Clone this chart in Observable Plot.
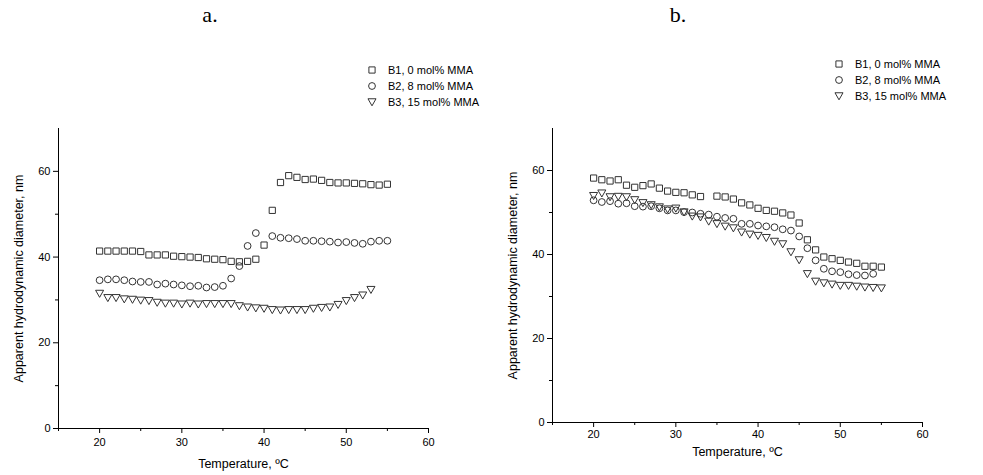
<!DOCTYPE html>
<html>
<head>
<meta charset="utf-8">
<script src="https://cdn.jsdelivr.net/npm/d3@7"></script>
<script src="https://cdn.jsdelivr.net/npm/@observablehq/plot@0.6"></script>
<style>
  html, body { margin: 0; padding: 0; background: #fff; }
  #root { position: relative; width: 983px; height: 475px; overflow: hidden; background: #fff; font-family: "Liberation Sans", Arial, sans-serif; }
  .panel { position: absolute; }
  .title { position: absolute; font-family: "Liberation Serif", "Times New Roman", serif; font-size: 22px; color: #000; transform: translate(-50%, -50%); }
  .legend { position: absolute; font-size: 11px; color: #000; line-height: 15px; }
  .legend .row { display: flex; align-items: center; height: 16px; white-space: nowrap; }
  .legend svg { margin-right: 11px; }
</style>
</head>
<body>
<div id="root"></div>
<script>
// ---- data ----
const temps = [20,21,22,23,24,25,26,27,28,29,30,31,32,33,34,35,36,37,38,39,40,41,42,43,44,45,46,47,48,49,50,51,52,53,54,55];
const seriesNames = ["B1, 0 mol% MMA", "B2, 8 mol% MMA", "B3, 15 mol% MMA"];
const xTicks = [20, 30, 40, 50, 60];
const xMinorTicks = [15, 25, 35, 45, 55];
const yTicks = [0, 20, 40, 60];
const yMinorTicks = [10, 30, 50];
const panelTitles = ["a.", "b."];
const xLabel = "Temperature, ºC";
const yLabel = "Apparent hydrodynamic diameter, nm";

// panel a
const aB1 = [41.4,41.4,41.4,41.4,41.4,41.3,40.5,40.5,40.5,40.2,40.1,40.0,39.9,39.6,39.5,39.4,39.0,38.9,39.0,39.5,42.8,50.9,57.4,59.0,58.6,58.1,58.2,57.9,57.4,57.3,57.3,57.2,57.1,56.9,56.8,57.0];
const aB2 = [34.6,34.8,34.8,34.6,34.3,34.2,34.2,33.6,33.8,33.6,33.4,33.2,33.3,32.9,33.0,33.3,35.0,37.9,42.6,45.6,null,44.9,44.5,44.4,44.2,43.8,43.8,43.7,43.6,43.4,43.5,43.3,43.1,43.6,43.8,43.8];
const aB3 = [31.5,30.5,30.5,30.2,30.1,29.9,29.8,29.4,29.2,29.2,29.0,29.2,29.0,29.1,29.1,29.1,29.1,28.6,28.3,28.1,28.0,27.7,27.6,27.7,27.7,27.7,28.0,28.2,28.3,28.9,29.8,30.5,31.1,32.4,null,null];

// panel b
const bB1 = [58.2,57.8,57.5,57.8,56.5,56.0,56.4,56.8,55.8,55.1,54.8,54.7,54.2,53.8,null,53.9,53.7,53.2,52.3,51.8,51.0,50.5,50.3,49.9,49.4,47.5,43.5,41.1,39.4,39.0,38.6,38.2,37.9,37.2,37.2,37.0];
const bB2 = [52.9,52.5,52.7,52.1,52.2,51.5,51.4,51.5,51.0,50.5,50.5,50.1,50.0,49.7,49.5,49.0,48.7,48.5,47.3,47.3,46.9,46.7,46.5,46.0,45.7,44.3,41.5,38.6,36.6,36.0,35.8,35.3,35.1,35.0,35.4,null];
const bB3 = [54.0,54.6,53.7,53.8,53.7,53.0,52.3,51.8,51.3,50.8,51.0,50.1,49.1,48.9,47.9,47.3,46.7,46.3,45.3,44.8,44.5,44.0,43.1,42.5,40.6,38.7,35.4,33.6,33.2,32.9,32.6,32.6,32.4,32.2,32.1,32.0];

// ---- symbols ----
const triDown = {
  draw(ctx, size) {
    const h = Math.sqrt(size / Math.PI) * 1.15;
    ctx.moveTo(-h, -h * 0.8);
    ctx.lineTo(h, -h * 0.8);
    ctx.lineTo(0, h * 0.95);
    ctx.closePath();
  }
};
const symbols = ["square", "circle", triDown];
const symbolR = [3.5, 3.4, 3.5];
const STROKE = "#333";

function rows(vals) {
  return temps.map((t, i) => ({t, v: vals[i]})).filter(d => d.v != null);
}

function makePanel(series, opts) {
  return Plot.plot({
    width: opts.width,
    height: opts.height,
    marginLeft: opts.ml,
    marginRight: opts.mr,
    marginTop: opts.mt,
    marginBottom: opts.mb,
    x: {domain: [15, 60]},
    y: {domain: [0, 70]},
    style: {fontFamily: '"Liberation Sans", Arial, sans-serif', fontSize: "11px", color: "#000", background: "transparent", overflow: "visible"},
    marks: [
      Plot.axisX({ticks: xMinorTicks, tickSize: 3, tickFormat: () => "", label: null}),
      Plot.axisX({ticks: xTicks, tickSize: 5, tickPadding: opts.xPad, label: null, fontSize: 11}),
      Plot.axisY({ticks: yMinorTicks, tickSize: 3, tickFormat: () => "", label: null}),
      Plot.axisY({ticks: yTicks, tickSize: 5, tickPadding: 3, label: null, fontSize: 11}),
      Plot.text([xLabel], {text: d => d, frameAnchor: "bottom", textAnchor: "middle", lineAnchor: "top", dy: opts.xLabelOffset, fontSize: 12.5}),
      Plot.text([yLabel], {text: d => d, frameAnchor: "left", textAnchor: "middle", rotate: -90, dx: -opts.yLabelOffset, fontSize: 12.5}),
      Plot.ruleX([15], {stroke: "#000", strokeWidth: 1}),
      Plot.ruleY([0], {stroke: "#000", strokeWidth: 1}),
      ...series.map((vals, k) => Plot.dot(rows(vals), {
        x: "t", y: "v", symbol: () => symbols[k], r: symbolR[k],
        stroke: STROKE, strokeWidth: 1, fill: "none"
      }))
    ]
  });
}

function legendSvg(k) {
  const ns = "http://www.w3.org/2000/svg";
  const svg = document.createElementNS(ns, "svg");
  svg.setAttribute("width", 10); svg.setAttribute("height", 10);
  const p = document.createElementNS(ns, "path");
  const sym = k === 0 ? d3.symbolSquare : k === 1 ? d3.symbolCircle : triDown;
  const size = Math.PI * symbolR[k] * symbolR[k];
  p.setAttribute("d", d3.symbol(sym, size)());
  p.setAttribute("transform", "translate(5,5)");
  p.setAttribute("fill", "none");
  p.setAttribute("stroke", STROKE);
  svg.appendChild(p);
  return svg;
}

function addLegend(root, left, top) {
  const lg = document.createElement("div");
  lg.className = "legend";
  lg.style.left = left + "px";
  lg.style.top = top + "px";
  seriesNames.forEach((name, k) => {
    const r = document.createElement("div");
    r.className = "row";
    r.appendChild(legendSvg(k));
    const s = document.createElement("span");
    s.textContent = name;
    r.appendChild(s);
    lg.appendChild(r);
  });
  root.appendChild(lg);
}

function addTitle(root, text, cx, cy) {
  const t = document.createElement("div");
  t.className = "title";
  t.textContent = text;
  t.style.left = cx + "px";
  t.style.top = cy + "px";
  root.appendChild(t);
}

const root = document.getElementById("root");

const pa = makePanel([aB1, aB2, aB3], {width: 480, height: 365, ml: 58, mr: 52, mt: 18, mb: 47, xPad: 5, xLabelOffset: 31, yLabelOffset: 40});
const wa = document.createElement("div"); wa.className = "panel"; wa.style.left = "0px"; wa.style.top = "110px";
wa.appendChild(pa); root.appendChild(wa);

const pb = makePanel([bB1, bB2, bB3], {width: 488, height: 365, ml: 57, mr: 61, mt: 18, mb: 53, xPad: 3, xLabelOffset: 25, yLabelOffset: 40});
const wb = document.createElement("div"); wb.className = "panel"; wb.style.left = "495px"; wb.style.top = "110px";
wb.appendChild(pb); root.appendChild(wb);

addTitle(root, panelTitles[0], 210, 15);
addTitle(root, panelTitles[1], 678, 15);
addLegend(root, 367, 62);
addLegend(root, 834, 56);
</script>
</body>
</html>
